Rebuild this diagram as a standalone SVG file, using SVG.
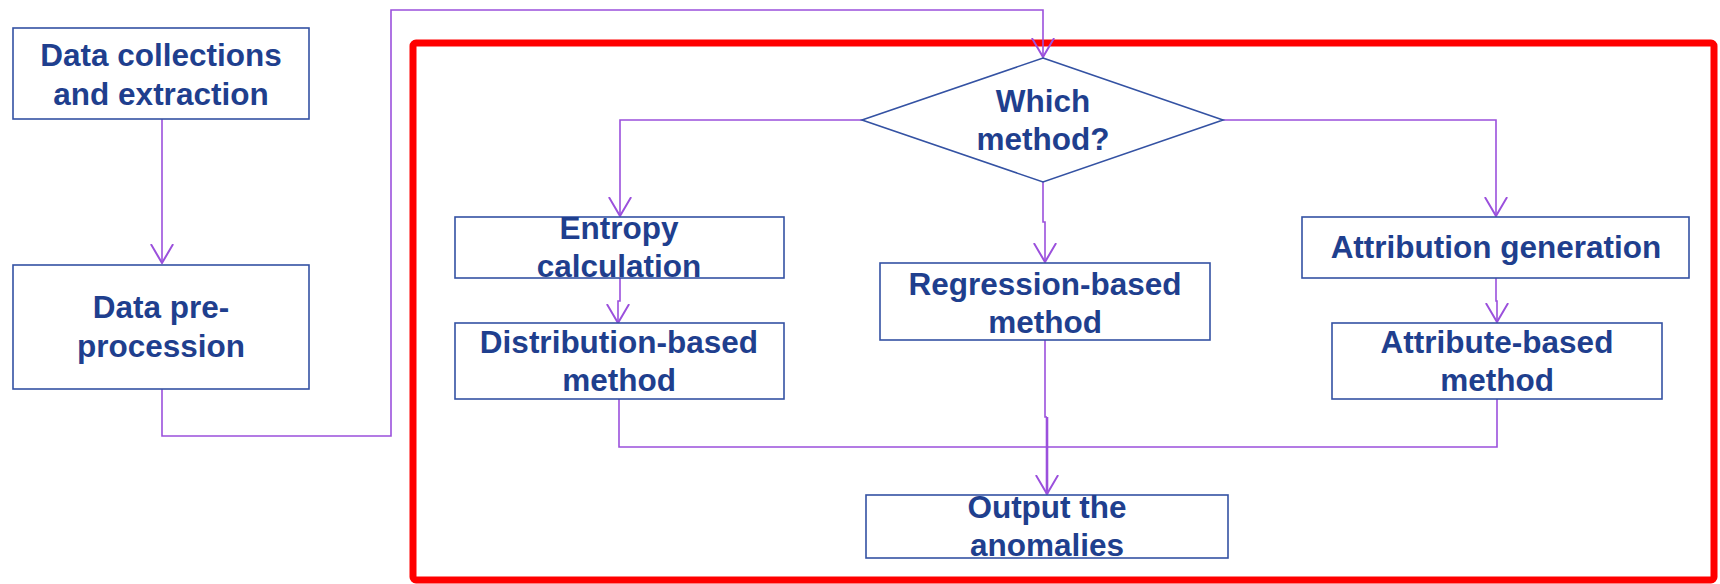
<svg xmlns="http://www.w3.org/2000/svg" width="1720" height="584" viewBox="0 0 1720 584">
<style>
.box{fill:#fff;stroke:#3452a3;stroke-width:1.6}
.t{font-family:"Liberation Sans",Arial,sans-serif;font-weight:bold;font-size:31.5px;fill:#1f3f8e;text-anchor:middle}
.c{fill:none;stroke:#9b50dc;stroke-width:1.6}
.c2{fill:none;stroke:#9b50dc;stroke-width:2.6}
</style>
<defs>
<marker id="ah" markerUnits="userSpaceOnUse" markerWidth="20" markerHeight="24" refX="17" refY="10" orient="auto" viewBox="0 0 18 20">
<path d="M0,0 L17,10 L0,20" fill="none" stroke="#9b50dc" stroke-width="1.8"/>
</marker>
</defs>
<rect x="413" y="43" width="1301" height="537" rx="3" fill="none" stroke="#ff0000" stroke-width="7"/>
<g id="connectors">
<path class="c" d="M162,119 V263" marker-end="url(#ah)"/>
<path class="c" d="M162,389 V436 H391 V10 H1043 V57" marker-end="url(#ah)"/>
<path class="c" d="M862,120 H620 V216" marker-end="url(#ah)"/>
<path class="c" d="M1223,120 H1496 V216" marker-end="url(#ah)"/>
<path class="c" d="M1043,182 V222 H1045 V262" marker-end="url(#ah)"/>
<path class="c" d="M620,278 V301 H618 V323" marker-end="url(#ah)"/>
<path class="c" d="M1496,278 V301 H1497 V322" marker-end="url(#ah)"/>
<path class="c" d="M619,399 V447 H1497 V399"/>
<path class="c" d="M1045,340 V417 H1047"/>
<path class="c2" d="M1047,417 V494" marker-end="url(#ah)"/>
</g>
<g id="n1"><rect class="box" x="13" y="28" width="296" height="91"/>
<text class="t" x="161" y="66">Data collections</text><text class="t" x="161" y="105">and extraction</text></g>
<g id="n2"><rect class="box" x="13" y="265" width="296" height="124"/>
<text class="t" x="161" y="318">Data pre-</text><text class="t" x="161" y="357">procession</text></g>
<g id="n3"><polygon class="box" points="1043,58 1223,120 1043,182 862,120"/>
<text class="t" x="1043" y="112">Which</text><text class="t" x="1043" y="150">method?</text></g>
<g id="n4"><rect class="box" x="455" y="217" width="329" height="61"/>
<text class="t" x="619" y="239">Entropy</text><text class="t" x="619" y="277">calculation</text></g>
<g id="n5"><rect class="box" x="455" y="323" width="329" height="76"/>
<text class="t" x="619" y="353">Distribution-based</text><text class="t" x="619" y="391">method</text></g>
<g id="n6"><rect class="box" x="880" y="263" width="330" height="77"/>
<text class="t" x="1045" y="295">Regression-based</text><text class="t" x="1045" y="333">method</text></g>
<g id="n7"><rect class="box" x="1302" y="217" width="387" height="61"/>
<text class="t" x="1496" y="258">Attribution generation</text></g>
<g id="n8"><rect class="box" x="1332" y="323" width="330" height="76"/>
<text class="t" x="1497" y="353">Attribute-based</text><text class="t" x="1497" y="391">method</text></g>
<g id="n9"><rect class="box" x="866" y="495" width="362" height="63"/>
<text class="t" x="1047" y="518">Output the</text><text class="t" x="1047" y="556">anomalies</text></g>
</svg>
